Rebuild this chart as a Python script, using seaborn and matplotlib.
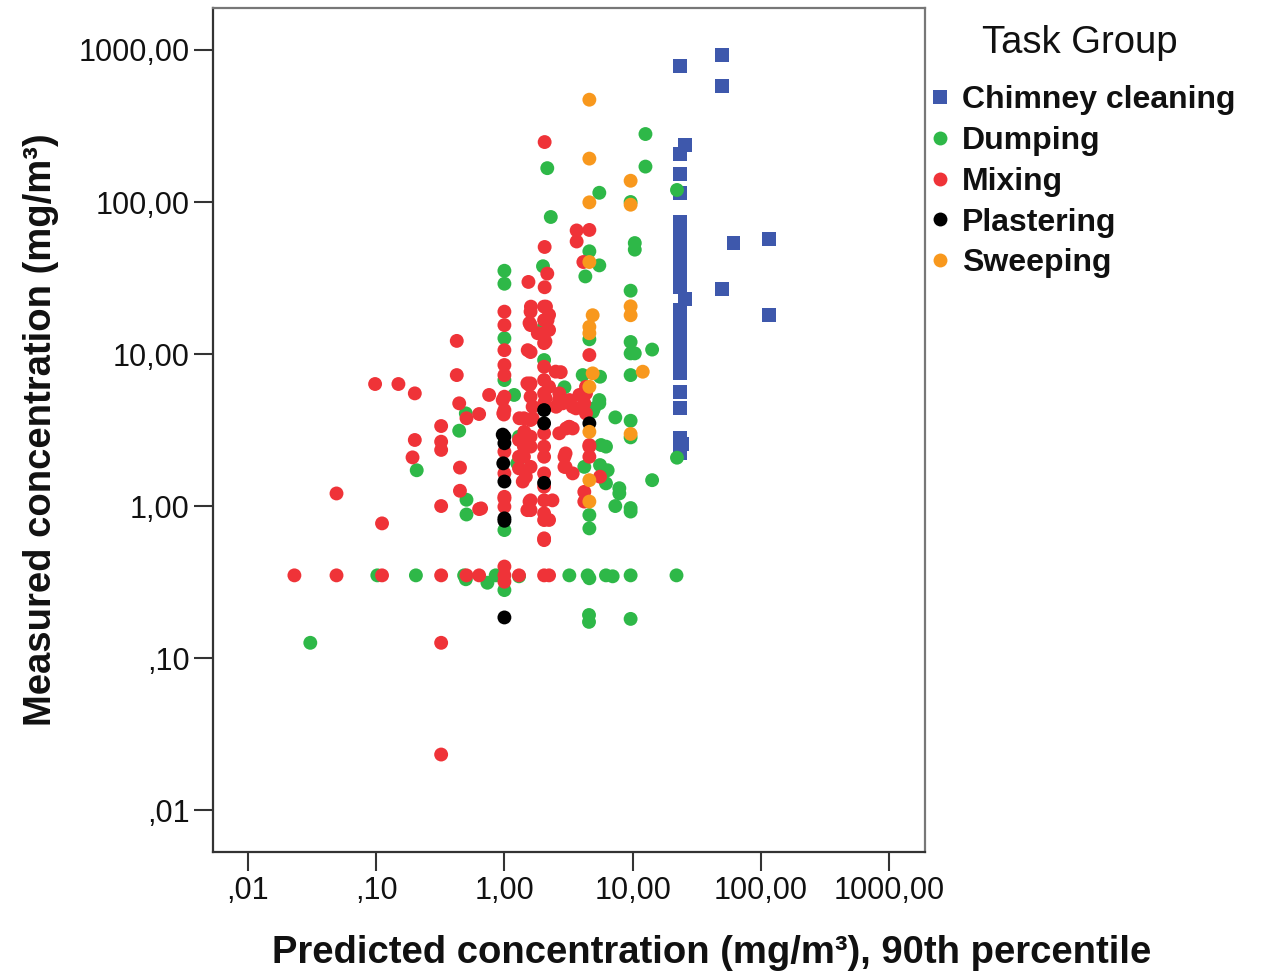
import matplotlib
matplotlib.use("Agg")
import matplotlib.pyplot as plt
import seaborn as sns
import pandas as pd

# ---------------- data ----------------
groups = ["Chimney cleaning", "Dumping", "Mixing", "Plastering", "Sweeping"]
colors = ["#3E58AC", "#2EB848", "#EF3338", "#000000", "#F8981D"]

chimney_x = [23.5, 50, 50, 25.6, 23.5, 23.5, 23.5, 23.5, 23.5, 23.5, 23.5, 23.5, 23.5,
             23.5, 25.6, 23.5, 23.5, 23.5, 23.5, 23.5, 23.5, 23.5, 23.5, 23.5, 23.5, 23.5,
             23.5, 61.3, 115, 50, 115, 23.5, 23.5, 23.5, 24.5]
chimney_y = [785, 927, 580, 237, 207, 153, 115, 73.9, 62.5, 53.7, 48.3, 39.7, 35.7,
             27.6, 23.0, 19.5, 16.7, 14.0, 12.4, 10.2, 8.73, 7.50, 5.62, 4.41, 2.80, 2.41,
             2.23, 54.0, 57.1, 26.9, 18.1, 30.5, 44, 9.3, 2.55]

dumping_x = [22.2, 22.2, 12.6, 12.6, 14.2, 5.5, 9.65, 10.4, 10.4, 4.6, 5.5, 4.28, 9.65,
             4.6, 9.65, 9.65, 10.4, 9.65, 5.57, 4.08, 2.94, 5.5, 5.5, 4.88, 7.33, 9.65,
             9.65, 6.2, 5.67, 4.2, 5.57, 6.39, 6.2, 7.88, 7.88, 14.2, 7.33, 9.65, 9.65,
             4.6, 4.6, 5.0,
             3.21, 4.46, 4.6, 6.2, 6.99, 9.65, 22, 0.102, 0.204, 0.485, 0.5, 0.855, 1.3,
             0.737, 1.0,
             4.57, 4.57, 9.65, 0.0306,
             0.207, 0.50, 0.444, 1.19, 0.506, 0.506,
             1.0, 1.0, 1.0, 1.0, 1.0,
             2.04, 2.04, 2.16, 2.30, 2.0, 1.3, 1.26]
dumping_y = [120, 2.08, 280, 171, 10.7, 115, 100, 53.7, 48.6, 47.4, 38.3, 32.4, 26.1,
             12.5, 12.0, 10.1, 10.1, 7.27, 7.09, 7.27, 6.04, 4.98, 4.74, 4.17, 3.83, 3.64,
             2.83, 2.46, 2.52, 1.81, 1.86, 1.72, 1.41, 1.31, 1.21, 1.48, 1.0, 0.97, 0.92,
             0.873, 0.713, 4.39,
             0.35, 0.35, 0.335, 0.35, 0.345, 0.35, 0.35, 0.35, 0.35, 0.35, 0.33, 0.35, 0.345,
             0.313, 0.28,
             0.192, 0.173, 0.181, 0.126,
             1.72, 4.07, 3.13, 5.38, 1.1, 0.88,
             12.7, 6.74, 0.695, 35.3, 29,
             15.2, 9.13, 167, 79.7, 37.8, 2.86, 1.91]

mixing_x = [2.06, 2.06, 2.16, 1.54, 2.06, 3.66, 4.6, 3.66, 4.13,
            4.6, 2.75, 4.33, 3.41, 2.85, 4.2, 3.41, 3.03, 4.6, 4.6, 2.94, 2.94, 3.41, 5.57,
            4.2, 4.2, 4.6,
            0.023, 0.049, 0.111, 0.321, 0.506, 0.635, 1.0, 1.0, 1.0, 1.30, 2.04, 2.23,
            0.321, 0.321, 2.04,
            0.049, 0.111, 0.098, 0.149, 0.2, 0.2, 0.192, 0.321, 0.321, 0.321, 0.321, 0.425,
            0.425, 0.444, 0.506, 0.635, 0.76, 0.45, 0.45, 0.635, 0.658,
            1.0, 1.0, 1.0, 1.0, 1.0, 1.0, 1.0, 1.0, 1.0, 1.0, 1.0, 1.0, 0.97, 0.99, 0.98,
            2.04, 2.04, 2.04, 2.04, 2.04, 2.04, 2.04, 2.04, 2.04, 2.04, 2.04, 2.04, 2.04,
            2.04, 2.04, 2.04, 2.04,
            1.60, 1.60, 1.60, 1.60, 1.60, 1.60, 1.60, 1.60, 1.60, 1.60, 1.60,
            2.23, 2.23, 2.09, 2.51, 2.23, 2.67, 2.1, 2.37, 2.23, 2.53, 2.68, 2.68,
            1.42, 1.43, 1.42, 1.42, 1.30, 1.30, 1.30, 1.47, 1.39, 1.57, 1.51, 1.31, 1.66,
            1.66, 1.51, 1.57, 1.52, 1.82, 1.57, 1.61, 2.11, 2.17,
            3.19, 3.0, 3.0, 3.21, 3.84, 4.33, 3.62, 4.33, 3.21]
mixing_y = [248, 50.6, 33.8, 29.8, 27.5, 65, 65.5, 55, 40.3,
            9.85, 7.6, 5.51, 4.50, 4.74, 4.74, 3.24, 3.24, 2.46, 2.11, 2.11, 1.81, 1.64, 1.56,
            1.24, 1.07, 2.52,
            0.35, 0.35, 0.35, 0.35, 0.35, 0.35, 0.40, 0.35, 0.318, 0.35, 0.35, 0.35,
            0.126, 0.0232, 0.597,
            1.21, 0.769, 6.35, 6.35, 5.51, 2.72, 2.09, 3.36, 2.65, 2.34, 1.0, 12.2,
            7.27, 4.74, 3.78, 4.03, 5.38, 1.79, 1.26, 0.955, 0.965,
            19.0, 15.5, 10.6, 8.47, 7.27, 5.24, 4.28, 2.28, 1.64, 1.15, 0.99, 1.12, 4.98, 4.0, 4.07,
            20.5, 16.7, 13.7, 11.8, 8.25, 6.74, 5.51, 4.74, 3.01, 2.46, 2.11, 1.64, 1.34,
            1.09, 0.895, 0.809, 0.613,
            19.0, 15.5, 10.3, 6.41, 5.24, 3.68, 2.86, 2.46, 1.81, 1.09, 0.94,
            18.1, 14.4, 12.1, 7.66, 6.09, 4.98, 5.1, 1.09, 0.81, 4.5, 3.01, 5.51,
            3.78, 3.08, 2.46, 2.11, 2.72, 2.11, 1.77, 1.56, 1.45, 1.07, 0.94, 3.78, 4.5,
            3.78, 6.41, 6.25, 10.6, 13.7, 16.0, 20.5, 20.5, 16.7,
            3.32, 2.22, 1.81, 4.98, 5.38, 6.09, 4.39, 4.07, 3.32]

plastering_x = [1.0, 1.0, 0.98, 1.0, 1.0, 1.0, 1.0, 2.04, 2.04, 2.04, 4.6, 0.97]
plastering_y = [2.86, 2.59, 1.91, 1.45, 0.830, 0.80, 0.185, 4.28, 3.50, 1.42, 3.50, 2.95]

sweeping_x = [4.6, 4.6, 9.65, 4.6, 9.65, 4.6, 9.65, 9.65, 4.88, 4.6, 4.6, 12.0, 4.88,
              4.6, 4.6, 9.65, 4.6, 4.6]
sweeping_y = [471, 193, 138, 99.5, 96, 40.3, 20.6, 18, 18, 15.1, 13.7, 7.65, 7.46,
              6.09, 3.08, 2.98, 1.48, 1.07]

x_ticks = [0.01, 0.1, 1, 10, 100, 1000]
x_tick_labels = [",01", ",10", "1,00", "10,00", "100,00", "1000,00"]
y_ticks = [0.01, 0.1, 1, 10, 100, 1000]
y_tick_labels = [",01", ",10", "1,00", "10,00", "100,00", "1000,00"]

# ---------------- build frame ----------------
xs = [chimney_x, dumping_x, mixing_x, plastering_x, sweeping_x]
ys = [chimney_y, dumping_y, mixing_y, plastering_y, sweeping_y]
frames = []
for g, gx, gy in zip(groups, xs, ys):
    frames.append(pd.DataFrame({"pred": gx, "meas": gy, "Task Group": g}))
df = pd.concat(frames, ignore_index=True)

sns.set_theme(style="white")
plt.rcParams["font.family"] = ["Liberation Sans", "DejaVu Sans"]

W, H = 1261, 972
fig = plt.figure(figsize=(W / 100, H / 100), dpi=100)
ax = fig.add_axes([213 / W, 1 - 852 / H, 712 / W, 844 / H])

markers = {g: ("s" if g == "Chimney cleaning" else "o") for g in groups}
sns.scatterplot(data=df, x="pred", y="meas", hue="Task Group", style="Task Group",
                hue_order=groups, style_order=groups, palette=colors, markers=markers,
                s=100, linewidth=0, alpha=1, ax=ax)

ax.set_xscale("log")
ax.set_yscale("log")
ax.set_xlim(0.00533, 1910)
ax.set_ylim(0.0053, 1889)
ax.set_xticks(x_ticks)
ax.set_xticklabels(x_tick_labels)
ax.set_yticks(y_ticks)
ax.set_yticklabels(y_tick_labels)
ax.minorticks_off()
ax.tick_params(axis="both", which="major", direction="out", length=14, width=1.5,
               color="#333333", labelsize=22, pad=3, labelcolor="#111111",
               bottom=True, left=True)

for side in ["left", "bottom"]:
    ax.spines[side].set_color("#333333")
    ax.spines[side].set_linewidth(1.6)
for side in ["top", "right"]:
    ax.spines[side].set_color("#777777")
    ax.spines[side].set_linewidth(1.6)

ax.set_xlabel("Predicted concentration (mg/m³), 90th percentile", fontsize=27.5,
              fontweight="bold", color="#111111")
ax.xaxis.set_label_coords(0.70, -0.0985)
ax.set_ylabel("Measured concentration (mg/m³)", fontsize=27.5, fontweight="bold",
              labelpad=14, color="#111111")

handles, labels = ax.get_legend_handles_labels()
leg = ax.legend(handles, labels, loc="upper left",
                bbox_to_anchor=(932 / W, 1 - 85 / H), bbox_transform=fig.transFigure,
                frameon=False, fontsize=23, markerscale=1.0,
                handlelength=0.5, handletextpad=0.44, labelspacing=0.34, borderpad=0,
                borderaxespad=0)
for t in leg.get_texts():
    t.set_fontweight("bold")
    t.set_color("#111111")
fig.text(1080 / W, 1 - 43 / H, "Task Group", fontsize=27.5, ha="center", va="center",
         color="#111111")

fig.savefig("out.png", dpi=100)
